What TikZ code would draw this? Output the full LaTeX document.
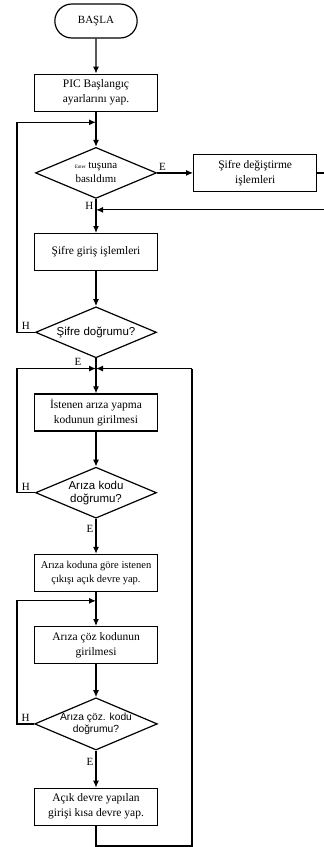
\documentclass[tikz,border=0pt]{standalone}
\usepackage{fontspec}
\setmainfont{Liberation Serif}
\newfontfamily\sansfont{Liberation Sans}
\usetikzlibrary{shapes,arrows.meta,positioning,calc}

\begin{document}
\begin{tikzpicture}[
    x=1pt, y=-1pt,
    node distance=35pt,
    box/.style={rectangle, draw, line width=1.2pt, minimum width=123pt, minimum height=37pt, align=center, inner sep=2pt, font=\fontsize{11.5}{15}\selectfont},
    smallbox/.style={box, font=\fontsize{10.5}{14}\selectfont},
    term/.style={rounded rectangle, draw, line width=1.2pt, minimum width=89pt, minimum height=34pt, font=\fontsize{11}{13}\selectfont},
    decision/.style={diamond, draw, line width=1.2pt, minimum width=121pt, minimum height=51pt, aspect=2.35, inner sep=0pt, align=center, font=\sansfont\fontsize{11.5}{13}\selectfont},
    arrow/.style={-{Latex[length=7pt,width=6pt]}, line width=1.2pt},
    line/.style={line width=1.2pt},
    lbl/.style={font=\fontsize{11}{13}\selectfont, inner sep=2pt}
]
    \useasboundingbox (0,0) rectangle (324,847);

    \node[term] (basla) at (96,21) {BAŞLA};
    \node[box, below=of basla] (init) {PIC Başlangıç\\ayarlarını yap.};
    \node[decision, font=\fontsize{11}{14}\selectfont, below=of init] (tus) {{\tiny Enter} tuşuna\\basıldımı};
    \node[box, right=36pt of tus] (degis) {Şifre değiştirme\\işlemleri};
    \node[box, below=34pt of tus] (giris) {Şifre giriş işlemleri};
    \node[decision, below=of giris] (sifre) {Şifre doğrumu?};
    \node[box, below=35pt of sifre] (istenen) {İstenen arıza yapma\\kodunun girilmesi};
    \node[decision, below=of istenen] (kod) {Arıza kodu\\doğrumu?};
    \node[smallbox, below=of kod] (acik) {Arıza koduna göre istenen\\çıkışı açık devre yap.};
    \node[box, below=34pt of acik] (coz) {Arıza çöz kodunun\\girilmesi};
    \node[decision, font=\sansfont\fontsize{10.3}{12}\selectfont, below=33pt of coz] (cozkod) {Arıza çöz. kodu\\doğrumu?};
    \node[box, below=37pt of cozkod] (kisa) {Açık devre yapılan\\girişi kısa devre yap.};

    % joints and outer lines
    \coordinate (j1) at ($(init.south)!0.3!(tus.north)$);
    \coordinate (j2) at ($(tus.south)!0.32!(giris.north)$);
    \coordinate (j3) at ($(sifre.south)!0.29!(istenen.north)$);
    \coordinate (j4) at ($(acik.south)!0.26!(coz.north)$);
    \coordinate (lft) at (17,0);
    \coordinate (rgt) at (192,0);
    \coordinate (edge) at (327,0);
    \coordinate (bot) at (0,846);

    \draw[arrow] (basla) -- (init);
    \draw[arrow] (init) -- (tus);
    \draw[arrow] (tus.east) -- node[lbl, pos=0.15, above] {E} (degis);
    \draw[line] (degis.east) -- (degis.east -| edge) |- (j2 -| edge);
    \draw[arrow] (j2 -| edge) -- (j2);
    \draw[arrow] (tus.south) -- node[lbl, pos=0.2, left] {H} (giris);
    \draw[arrow] (giris) -- (sifre);
    \draw[arrow] (sifre.west) -- node[lbl, above] {H} (sifre.west -| lft) |- (j1);
    \draw[arrow] (sifre.south) -- node[lbl, pos=0.1, left=12pt] {E} (istenen);
    \draw[arrow] (istenen) -- (kod);
    \draw[arrow] (kod.west) -- node[lbl, above] {H} (kod.west -| lft) |- (j3);
    \draw[arrow] (kod.south) -- node[lbl, pos=0.3, left] {E} (acik);
    \draw[arrow] (acik) -- (coz);
    \draw[arrow] (coz) -- (cozkod);
    \draw[arrow] (cozkod.west) -- node[lbl, above] {H} (cozkod.west -| lft) |- (j4);
    \draw[arrow] (cozkod.south) -- node[lbl, pos=0.3, left] {E} (kisa);
    \draw[line] (kisa.south) -- (kisa.south |- bot) -| (rgt |- j3);
    \draw[arrow] (rgt |- j3) -- (j3);
\end{tikzpicture}
\end{document}
